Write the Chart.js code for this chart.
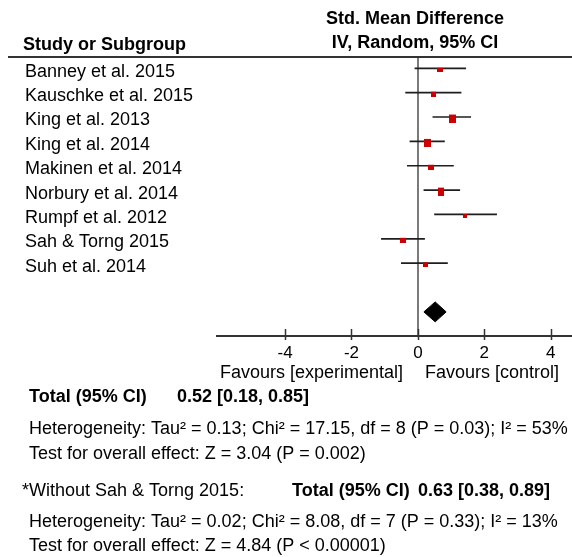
<!DOCTYPE html>
<html>
<head>
<meta charset="utf-8">
<script src="https://cdn.jsdelivr.net/npm/chart.js@4/dist/chart.umd.min.js"></script>
<style>
  html, body { margin: 0; padding: 0; background: #fff; }
  canvas { display: block; }
</style>
</head>
<body>
<canvas id="forest" width="572" height="557"></canvas>
<script>
// Study-level standardised mean differences with 95% confidence intervals
const studies = [
  'Banney et al. 2015',
  'Kauschke et al. 2015',
  'King et al. 2013',
  'King et al. 2014',
  'Makinen et al. 2014',
  'Norbury et al. 2014',
  'Rumpf et al. 2012',
  'Sah & Torng 2015',
  'Suh et al. 2014'
];
const smd    = [0.67, 0.46, 1.04, 0.30, 0.39, 0.71, 1.43, -0.44, 0.24];
const ciLow  = [-0.10, -0.38, 0.44, -0.25, -0.33, 0.17, 0.49, -1.11, -0.51];
const ciHigh = [1.45, 1.31, 1.60, 0.81, 1.08, 1.27, 2.38, 0.21, 0.90];

// Pooled random-effects estimate (all studies) and sensitivity estimate
const pooled = [0.52, 0.18, 0.85];          // estimate, lower, upper
const pooledAlt = [0.63, 0.38, 0.89];
const pooledRow = 10;

// Axis ticks
const tickValues = [-4, -2, 0, 2, 4];

// Marker box sizes (w, h in px) by study weight
const markerBox = [[6,4],[5,5],[7,8],[7,8],[6,5],[6,8],[4,4],[6,5],[5,5]];

const FONT = "'Liberation Sans', Arial, sans-serif";
const RED = '#cc0000';

function markerCanvas(w, h) {
  const c = document.createElement('canvas');
  c.width = w; c.height = h + 3;
  const g = c.getContext('2d');
  g.fillStyle = RED;
  g.fillRect(0, 3, w, h);
  return c;
}

const squares = {
  type: 'scatter',
  data: smd.map((v, i) => ({ x: v, y: i })),
  pointStyle: markerBox.map(([w, h]) => markerCanvas(w, h)),
  pointRadius: 3,
  showLine: false
};

const ciLines = studies.map((s, i) => ({
  type: 'line',
  data: [{ x: ciLow[i], y: i }, { x: ciHigh[i], y: i }],
  borderColor: '#1e1e1e',
  borderWidth: 1.7,
  pointRadius: 0,
  tension: 0,
  fill: false
}));

const half = 0.41;
const diamond = {
  type: 'line',
  data: [
    { x: pooled[1], y: pooledRow },
    { x: pooled[0], y: pooledRow - half },
    { x: pooled[2], y: pooledRow },
    { x: pooled[0], y: pooledRow + half },
    { x: pooled[1], y: pooledRow }
  ],
  borderColor: '#000',
  backgroundColor: '#000',
  borderWidth: 1,
  pointRadius: 0,
  tension: 0,
  fill: 'shape'
};

function txt(ctx, s, x, y, o = {}) {
  ctx.save();
  ctx.font = (o.bold ? 'bold ' : '') + (o.size || 18) + 'px ' + FONT;
  ctx.fillStyle = '#000';
  ctx.textAlign = o.align || 'left';
  ctx.textBaseline = 'middle';
  ctx.fillText(s, x, y);
  ctx.restore();
}

const ci = a => a[0].toFixed(2) + ' [' + a[1].toFixed(2) + ', ' + a[2].toFixed(2) + ']';

const annotations = {
  id: 'forestText',
  afterDraw(chart) {
    const ctx = chart.ctx;
    const xs = chart.scales.x, ys = chart.scales.y;
    const axisY = chart.chartArea.bottom;

    // tick marks crossing the axis line
    ctx.save();
    ctx.strokeStyle = '#333';
    ctx.lineWidth = 1.5;
    tickValues.forEach(v => {
      const px = Math.round(xs.getPixelForValue(v)) + 0.5;
      ctx.beginPath();
      ctx.moveTo(px, axisY - 7);
      ctx.lineTo(px, axisY + 4);
      ctx.stroke();
    });
    // header rule
    ctx.lineWidth = 2;
    ctx.beginPath();
    ctx.moveTo(8, chart.chartArea.top);
    ctx.lineTo(572, chart.chartArea.top);
    ctx.stroke();
    ctx.restore();

    // column headers
    txt(ctx, 'Std. Mean Difference', 415, 19, { bold: true, align: 'center' });
    txt(ctx, 'IV, Random, 95% CI', 415, 43, { bold: true, align: 'center' });
    txt(ctx, 'Study or Subgroup', 23, 45, { bold: true });

    // study names
    studies.forEach((s, i) => {
      txt(ctx, s, 25, ys.getPixelForValue(i) + 3.5);
    });

    // direction labels
    txt(ctx, 'Favours [experimental]', 403, 373, { align: 'right' });
    txt(ctx, 'Favours [control]', 425, 373);

    // summary block
    txt(ctx, 'Total (95% CI)', 29, 397, { bold: true });
    txt(ctx, ci(pooled), 177, 397, { bold: true });
    txt(ctx, 'Heterogeneity: Tau\u00b2 = 0.13; Chi\u00b2 = 17.15, df = 8 (P = 0.03); I\u00b2 = 53%', 29, 429);
    txt(ctx, 'Test for overall effect: Z = 3.04 (P = 0.002)', 29, 454);

    txt(ctx, '*Without Sah & Torng 2015:', 22, 491);
    txt(ctx, 'Total (95% CI)', 292, 491, { bold: true });
    txt(ctx, ci(pooledAlt), 418, 491, { bold: true });
    txt(ctx, 'Heterogeneity: Tau\u00b2 = 0.02; Chi\u00b2 = 8.08, df = 7 (P = 0.33); I\u00b2 = 13%', 29, 522);
    txt(ctx, 'Test for overall effect: Z = 4.84 (P < 0.00001)', 29, 546);
  }
};

new Chart(document.getElementById('forest'), {
  data: { datasets: [squares, diamond, ...ciLines] },
  options: {
    responsive: false,
    animation: false,
    events: [],
    layout: { autoPadding: false, padding: { left: 217, top: 57, right: 0, bottom: 0 } },
    plugins: { legend: { display: false }, tooltip: { enabled: false } },
    scales: {
      x: {
        type: 'linear',
        min: -6.05,
        max: 4.64,
        afterBuildTicks: s => { s.ticks = tickValues.map(v => ({ value: v })); },
        afterFit: s => {
          s.height = 557 - 336;
          s.paddingLeft = 0;
          s.paddingRight = 0;
        },
        grid: {
          drawTicks: false,
          lineWidth: 2,
          color: c => (c.tick && c.tick.value === 0) ? '#7a7a7a' : 'rgba(0,0,0,0)'
        },
        border: { color: '#333', width: 2 },
        ticks: {
          autoSkip: false,
          maxRotation: 0,
          padding: 7,
          color: '#000',
          font: { family: FONT, size: 17 },
          callback: v => String(v)
        }
      },
      y: {
        type: 'linear',
        display: false,
        reverse: true,
        min: -0.464,
        max: 10.99
      }
    }
  },
  plugins: [annotations]
});
</script>
</body>
</html>
